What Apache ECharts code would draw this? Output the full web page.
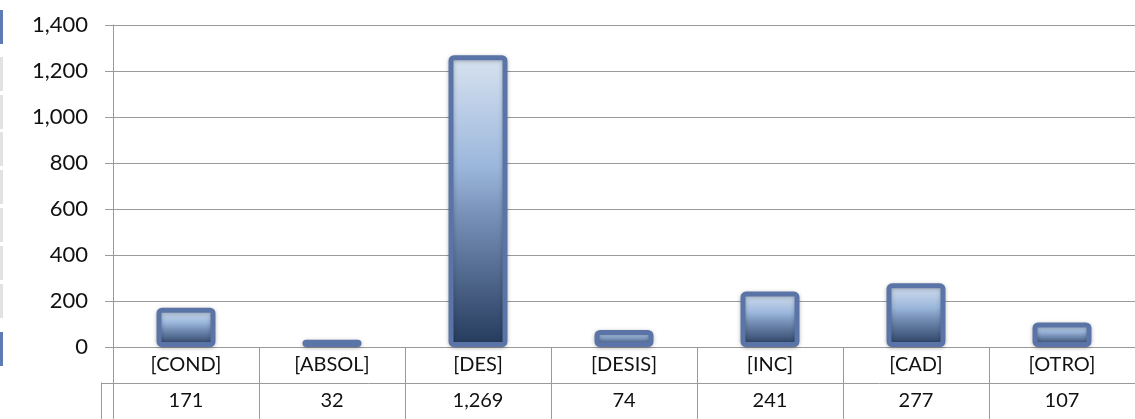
<!DOCTYPE html>
<html>
<head>
<meta charset="utf-8">
<script src="https://cdn.jsdelivr.net/npm/echarts@6/dist/echarts.min.js"></script>
<style>
  html, body { margin: 0; padding: 0; background: #fff; }
  #chart { width: 1135px; height: 419px; }
</style>
</head>
<body>
<div id="chart"></div>
<script>
const categories = ["[COND]", "[ABSOL]", "[DES]", "[DESIS]", "[INC]", "[CAD]", "[OTRO]"];
const values = [171, 32, 1269, 74, 241, 277, 107];
const yTicks = { min: 0, max: 1400, interval: 200 };

const font = "Lato, 'Noto Sans', sans-serif";
const lineColor = "#9a9a9a";
const fmt = (v) => v.toLocaleString("en-US");

const chart = echarts.init(document.getElementById("chart"), null, { renderer: "canvas" });

chart.setOption({
  animation: false,
  backgroundColor: "#fff",
  textStyle: { fontFamily: font, color: "#000" },
  grid: [
    { left: 113, right: 0, top: 25, bottom: 72 },
    { left: 113, right: 0, top: 383, bottom: 0 },
  ],
  xAxis: [
    {
      gridIndex: 0,
      type: "category",
      data: categories,
      axisLine: { lineStyle: { color: lineColor, width: 1 } },
      axisTick: { show: true, length: 36, lineStyle: { color: lineColor } },
      axisLabel: { color: "#111", fontSize: 20, fontFamily: font, margin: 18, verticalAlign: "middle" },
    },
    {
      gridIndex: 1,
      type: "category",
      position: "top",
      data: values.map(fmt),
      axisLine: { lineStyle: { color: lineColor, width: 1 } },
      axisTick: { show: false },
      splitLine: { show: true, lineStyle: { color: lineColor } },
      axisLabel: { inside: true, color: "#111", fontSize: 20, fontFamily: font, margin: 18, verticalAlign: "middle" },
    },
  ],
  yAxis: [
    {
      gridIndex: 0,
      type: "value",
      min: yTicks.min,
      max: yTicks.max,
      interval: yTicks.interval,
      axisLine: { show: true, lineStyle: { color: lineColor } },
      axisTick: { show: true, length: 8, lineStyle: { color: lineColor } },
      splitLine: { lineStyle: { color: lineColor, width: 1 } },
      axisLabel: { color: "#111", fontSize: 22, fontFamily: font, margin: 25, formatter: fmt },
    },
    {
      gridIndex: 1,
      type: "category",
      data: [""],
      offset: 12,
      axisLine: { show: true, lineStyle: { color: lineColor } },
      axisTick: { show: true, inside: true, length: 12, lineStyle: { color: lineColor } },
      axisLabel: { show: false },
    },
  ],
  series: [
    {
      type: "bar",
      xAxisIndex: 0,
      yAxisIndex: 0,
      data: values,
      barWidth: 59,
      itemStyle: {
        color: new echarts.graphic.LinearGradient(0, 0, 0, 1, [
          { offset: 0, color: "#d8e3f0" },
          { offset: 0.38, color: "#9cb7dc" },
          { offset: 0.55, color: "#7790b7" },
          { offset: 1, color: "#243a5c" },
        ]),
        borderColor: "#5b74a8",
        borderWidth: 5,
        borderRadius: 3,
        shadowColor: "rgba(0,0,0,0.25)",
        shadowBlur: 4,
        shadowOffsetY: 1,
      },
    },
  ],
  graphic: [
    { type: "rect", left: 0, top: 10, shape: { width: 3, height: 34 }, style: { fill: "#5f7bb3" } },
    { type: "rect", left: 0, top: 332, shape: { width: 3, height: 34 }, style: { fill: "#5f7bb3" } },
    { type: "rect", left: 0, top: 57, shape: { width: 3, height: 34 }, style: { fill: "#e2e2e2" } },
    { type: "rect", left: 0, top: 95, shape: { width: 3, height: 34 }, style: { fill: "#e2e2e2" } },
    { type: "rect", left: 0, top: 132, shape: { width: 3, height: 34 }, style: { fill: "#e2e2e2" } },
    { type: "rect", left: 0, top: 170, shape: { width: 3, height: 34 }, style: { fill: "#e2e2e2" } },
    { type: "rect", left: 0, top: 208, shape: { width: 3, height: 34 }, style: { fill: "#e2e2e2" } },
    { type: "rect", left: 0, top: 246, shape: { width: 3, height: 34 }, style: { fill: "#e2e2e2" } },
    { type: "rect", left: 0, top: 284, shape: { width: 3, height: 34 }, style: { fill: "#e2e2e2" } },
  ],
});

window.addEventListener("resize", () => chart.resize());
</script>
</body>
</html>
